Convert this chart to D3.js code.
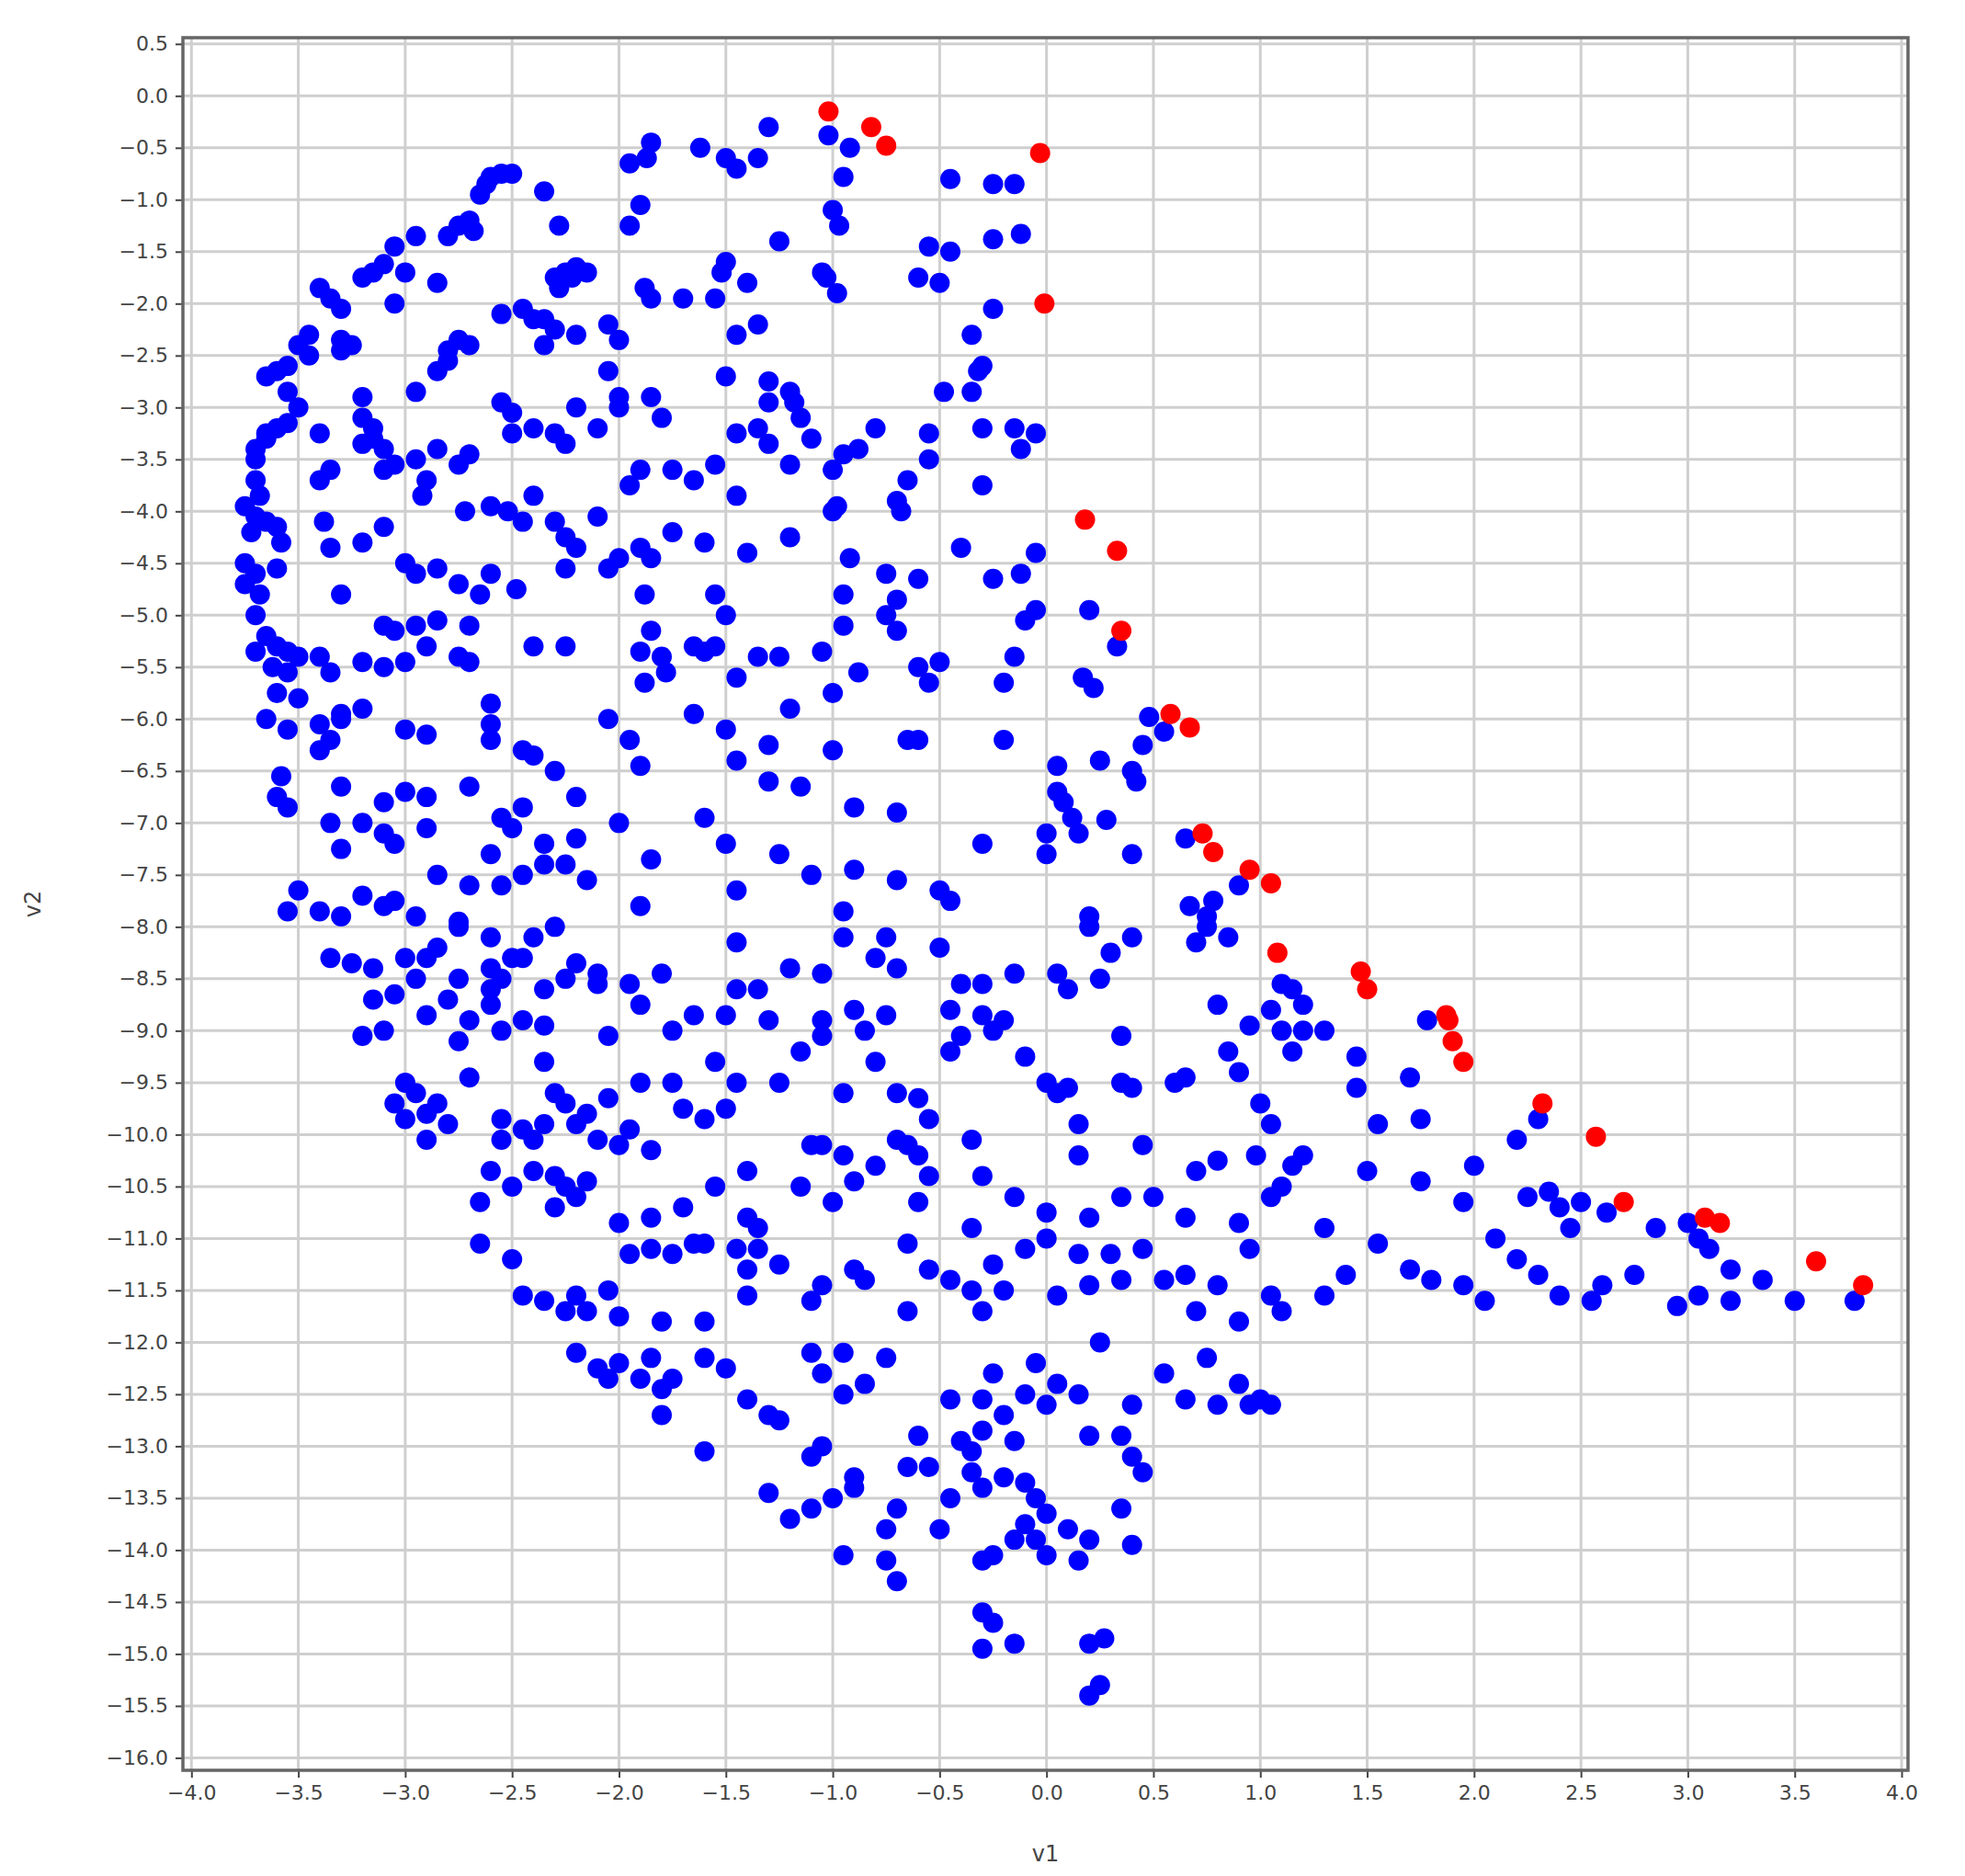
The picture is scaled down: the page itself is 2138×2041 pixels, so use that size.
<!DOCTYPE html>
<html>
<head>
<meta charset="utf-8">
<script src="https://cdn.jsdelivr.net/npm/d3@7"></script>
<style>
  body { margin: 0; background: #fff; }
  text { font-family: "DejaVu Sans", sans-serif; }
</style>
</head>
<body>
<div id="container"></div>
<script>
/* CONSTANTS AND GLOBALS */
const width = 2138,
  height = 2041,
  margin = { top: 41, bottom: 115, left: 199, right: 62 };

/* DATA */
const xTicks = d3.range(-4, 4.001, 0.5);
const yTicks = d3.range(-16, 0.501, 0.5);

// points, as [v1, v2]
const redPoints = [
  [-1.02,-0.15],[-0.82,-0.3],[-0.75,-0.48],[-0.03,-0.55],[-0.01,-2.0],[0.18,-4.08],[0.33,-4.38],
  [0.35,-5.15],[0.58,-5.95],[0.67,-6.08],[0.73,-7.1],[0.78,-7.28],[0.95,-7.45],[1.05,-7.58],
  [1.08,-8.25],[1.47,-8.43],[1.5,-8.6],[1.87,-8.85],[1.88,-8.9],[1.9,-9.1],[1.95,-9.3],[2.32,-9.7],
  [2.57,-10.02],[2.7,-10.65],[3.08,-10.8],[3.15,-10.85],[3.6,-11.22],[3.82,-11.45]
];

const bluePoints = [
  // 0 .. -2
  [-1.3,-0.3],[-1.02,-0.38],[-0.92,-0.5],[-1.85,-0.45],[-1.95,-0.65],[-1.87,-0.6],[-1.62,-0.5],[-1.5,-0.6],
  [-1.45,-0.7],[-1.35,-0.6],[-0.95,-0.78],[-0.45,-0.8],[-0.25,-0.85],[-0.15,-0.85],[-2.55,-0.75],[-2.6,-0.78],
  [-2.62,-0.85],[-2.65,-0.95],[-2.5,-0.75],[-2.35,-0.92],[-1.9,-1.05],[-1.95,-1.25],[-1.0,-1.1],[-0.97,-1.25],
  [-2.7,-1.2],[-2.68,-1.3],[-2.8,-1.35],[-2.75,-1.25],[-2.95,-1.35],[-3.05,-1.45],[-2.28,-1.25],[-1.25,-1.4],
  [-0.55,-1.45],[-0.45,-1.5],[-0.25,-1.38],[-0.12,-1.33],[-3.1,-1.62],[-3.15,-1.7],[-3.2,-1.75],[-3.0,-1.7],
  [-2.85,-1.8],[-2.25,-1.7],[-2.2,-1.65],[-2.3,-1.75],[-2.15,-1.7],[-1.5,-1.6],[-1.52,-1.7],[-1.4,-1.8],
  [-1.05,-1.7],[-1.03,-1.75],[-0.6,-1.75],[-0.5,-1.8],[-3.4,-1.85],[-3.35,-1.95],[-3.3,-2.05],[-2.45,-2.05],
  [-2.4,-2.15],[-1.88,-1.85],[-1.85,-1.95],[-1.7,-1.95],[-1.55,-1.95],[-2.28,-1.85],[-2.22,-1.75],[-0.98,-1.9],[-3.05,-2.0],
  // -2 .. -3
  [-3.45,-2.3],[-3.5,-2.4],[-3.3,-2.35],[-3.3,-2.45],[-3.25,-2.4],[-3.6,-2.65],[-3.55,-2.6],[-3.65,-2.7],
  [-3.45,-2.5],[-3.2,-2.9],[-2.8,-2.45],[-2.75,-2.35],[-2.7,-2.4],[-2.85,-2.65],[-2.8,-2.55],[-2.55,-2.1],
  [-2.35,-2.15],[-2.3,-2.25],[-2.2,-2.3],[-2.35,-2.4],[-2.05,-2.2],[-2.0,-2.35],[-1.45,-2.3],[-1.35,-2.2],
  [-0.35,-2.3],[-0.25,-2.05],[-3.55,-2.85],[-3.5,-3.0],[-2.05,-2.65],[-2.95,-2.85],[-2.55,-2.95],[-2.5,-3.05],
  [-2.2,-3.0],[-2.0,-2.9],[-1.85,-2.9],[-1.5,-2.7],[-1.3,-2.75],[-1.2,-2.85],[-1.18,-2.95],[-0.32,-2.65],
  [-0.3,-2.6],[-0.48,-2.85],[-0.35,-2.85],[-1.3,-2.95],
  // -3 .. -4
  [-3.65,-3.3],[-3.7,-3.4],[-3.7,-3.5],[-3.65,-3.25],[-3.6,-3.2],[-3.55,-3.15],[-3.4,-3.25],[-3.2,-3.1],
  [-3.15,-3.2],[-3.15,-3.3],[-3.1,-3.4],[-3.2,-3.35],[-3.1,-3.6],[-3.05,-3.55],[-3.35,-3.6],[-2.95,-3.5],
  [-2.9,-3.7],[-2.85,-3.4],[-2.7,-3.45],[-2.75,-3.55],[-2.92,-3.85],[-2.5,-3.25],[-2.4,-3.2],[-2.3,-3.25],
  [-2.25,-3.35],[-2.1,-3.2],[-2.0,-3.0],[-1.8,-3.1],[-1.9,-3.6],[-1.75,-3.6],[-1.65,-3.7],[-1.55,-3.55],
  [-1.45,-3.25],[-1.35,-3.2],[-1.15,-3.1],[-1.1,-3.3],[-0.95,-3.45],[-0.88,-3.4],[-0.8,-3.2],[-0.65,-3.7],
  [-0.55,-3.5],[-0.55,-3.25],[-0.3,-3.2],[-0.15,-3.2],[-0.12,-3.4],[-0.05,-3.25],[-0.3,-3.75],[-1.3,-3.35],
  [-1.2,-3.55],[-1.0,-3.6],[-1.95,-3.75],[-2.4,-3.85],[-3.7,-3.7],[-3.68,-3.85],[-3.4,-3.7],[-1.45,-3.85],
  [-0.98,-3.95],[-0.7,-3.9],[-0.68,-4.0],
  // -4 .. -5
  [-3.75,-3.95],[-3.7,-4.05],[-3.65,-4.1],[-3.6,-4.15],[-3.72,-4.2],[-3.58,-4.3],[-3.75,-4.5],[-3.7,-4.6],
  [-3.75,-4.7],[-3.68,-4.8],[-3.6,-4.55],[-3.38,-4.1],[-3.35,-4.35],[-3.2,-4.3],[-3.1,-4.15],[-3.0,-4.5],
  [-2.95,-4.6],[-2.85,-4.55],[-2.75,-4.7],[-2.65,-4.8],[-2.6,-4.6],[-2.72,-4.0],[-2.6,-3.95],[-2.52,-4.0],
  [-2.45,-4.1],[-2.3,-4.1],[-2.25,-4.25],[-2.1,-4.05],[-2.2,-4.35],[-2.0,-4.45],[-1.9,-4.35],[-1.85,-4.45],
  [-1.75,-4.2],[-1.6,-4.3],[-1.4,-4.4],[-1.2,-4.25],[-1.0,-4.0],[-0.92,-4.45],[-0.75,-4.6],[-0.6,-4.65],
  [-0.4,-4.35],[-0.25,-4.65],[-0.12,-4.6],[-0.05,-4.4],[-0.95,-4.8],[-0.7,-4.85],[-3.3,-4.8],[-2.48,-4.75],
  [-2.25,-4.55],[-2.05,-4.55],[-1.88,-4.8],[-1.55,-4.8],
  // -5 .. -6
  [-3.7,-5.0],[-3.65,-5.2],[-3.6,-5.3],[-3.7,-5.35],[-3.55,-5.35],[-3.5,-5.4],[-3.62,-5.5],[-3.55,-5.55],
  [-3.6,-5.75],[-3.5,-5.8],[-3.4,-5.4],[-3.35,-5.55],[-3.1,-5.1],[-3.05,-5.15],[-2.95,-5.1],[-2.9,-5.3],
  [-2.85,-5.05],[-2.7,-5.1],[-2.7,-5.45],[-3.2,-5.45],[-3.1,-5.5],[-2.75,-5.4],[-3.0,-5.45],[-2.4,-5.3],
  [-2.25,-5.3],[-1.85,-5.15],[-1.9,-5.35],[-1.8,-5.4],[-1.65,-5.3],[-1.6,-5.35],[-1.55,-5.3],[-1.5,-5.0],
  [-1.35,-5.4],[-1.25,-5.4],[-1.05,-5.35],[-0.95,-5.1],[-0.75,-5.0],[-0.7,-5.15],[-0.6,-5.5],[-0.55,-5.65],
  [-0.5,-5.45],[-0.2,-5.65],[-0.15,-5.4],[-0.1,-5.05],[-0.05,-4.95],[0.2,-4.95],[0.33,-5.3],[-1.78,-5.55],
  [-1.88,-5.65],[-1.45,-5.6],[-1.2,-5.9],[-0.88,-5.55],[-1.0,-5.75],[0.17,-5.6],[0.22,-5.7],[-3.3,-5.95],[-2.6,-5.85],
  // -6 .. -7
  [-3.65,-6.0],[-3.55,-6.1],[-3.4,-6.05],[-3.35,-6.2],[-3.4,-6.3],[-3.3,-6.0],[-3.2,-5.9],[-3.0,-6.1],
  [-2.9,-6.15],[-3.58,-6.55],[-3.6,-6.75],[-3.55,-6.85],[-2.6,-6.05],[-2.6,-6.2],[-2.45,-6.3],[-2.4,-6.35],
  [-2.3,-6.5],[-2.05,-6.0],[-1.95,-6.2],[-1.9,-6.45],[-1.65,-5.95],[-1.5,-6.1],[-1.45,-6.4],[-1.3,-6.25],
  [-1.0,-6.3],[-0.6,-6.2],[-0.65,-6.2],[-0.2,-6.2],[0.05,-6.45],[0.05,-6.7],[0.08,-6.8],[0.25,-6.4],
  [0.4,-6.5],[0.42,-6.6],[0.45,-6.25],[0.48,-5.98],[0.55,-6.12],[-3.3,-6.65],[-3.0,-6.7],[-2.9,-6.75],
  [-3.1,-6.8],[-2.7,-6.65],[-2.55,-6.95],[-2.45,-6.85],[-2.2,-6.75],[-1.3,-6.6],[-1.15,-6.65],[-0.7,-6.9],
  [0.12,-6.95],[0.28,-6.97],[-1.6,-6.95],
  // -7 .. -8
  [-3.35,-7.0],[-3.2,-7.0],[-3.1,-7.1],[-3.05,-7.2],[-3.3,-7.25],[-3.5,-7.65],[-3.4,-7.85],[-3.3,-7.9],
  [-3.2,-7.7],[-3.1,-7.8],[-3.05,-7.75],[-2.9,-7.05],[-2.85,-7.5],[-2.7,-7.6],[-2.6,-7.3],[-2.55,-7.6],
  [-2.45,-7.5],[-2.35,-7.4],[-2.25,-7.4],[-2.15,-7.55],[-2.5,-7.05],[-2.2,-7.15],[-2.35,-7.2],[-2.0,-7.0],
  [-1.85,-7.35],[-1.9,-7.8],[-1.5,-7.2],[-1.45,-7.65],[-1.25,-7.3],[-1.1,-7.5],[-0.9,-7.45],[-0.7,-7.55],
  [-0.5,-7.65],[-0.45,-7.75],[-0.3,-7.2],[-0.9,-6.85],[0.0,-7.1],[0.0,-7.3],[0.15,-7.1],[0.4,-7.3],
  [0.65,-7.15],[0.67,-7.8],[0.75,-7.9],[0.78,-7.75],[0.9,-7.6],[-2.95,-7.9],[-2.75,-7.95],[-3.55,-7.85],
  [-0.95,-7.85],[0.2,-7.9],
  // -8 .. -9
  [-3.35,-8.3],[-3.25,-8.35],[-3.15,-8.4],[-3.15,-8.7],[-3.05,-8.65],[-3.1,-9.0],[-3.2,-9.05],[-2.95,-8.5],
  [-2.9,-8.3],[-2.85,-8.2],[-2.75,-8.0],[-2.6,-8.1],[-2.75,-8.5],[-2.8,-8.7],[-2.7,-8.9],[-2.6,-8.6],
  [-2.55,-8.5],[-2.5,-8.3],[-2.45,-8.3],[-2.4,-8.1],[-2.3,-8.0],[-2.6,-8.4],[-2.35,-8.6],[-2.25,-8.5],
  [-2.2,-8.35],[-2.1,-8.45],[-2.6,-8.75],[-2.45,-8.9],[-2.35,-8.95],[-2.9,-8.85],[-2.75,-9.1],[-2.55,-9.0],
  [-1.95,-8.55],[-1.9,-8.75],[-1.8,-8.45],[-1.45,-8.15],[-1.45,-8.6],[-1.35,-8.6],[-1.2,-8.4],[-1.05,-8.45],
  [-0.95,-8.1],[-0.8,-8.3],[-0.75,-8.1],[-0.7,-8.4],[-0.5,-8.2],[-0.4,-8.55],[-0.3,-8.55],[-0.15,-8.45],
  [0.05,-8.45],[0.1,-8.6],[0.25,-8.5],[0.2,-8.0],[0.4,-8.1],[0.7,-8.15],[0.75,-8.0],[0.85,-8.1],
  [1.1,-8.55],[1.15,-8.6],[1.2,-8.75],[0.8,-8.75],[1.05,-8.8],[-1.3,-8.9],[-1.05,-8.9],[-0.9,-8.8],
  [-0.75,-8.85],[-0.45,-8.8],[-0.3,-8.85],[-0.2,-8.9],[-1.65,-8.85],[-1.5,-8.85],[-2.1,-8.55],[-3.0,-8.3],[0.3,-8.25],
  // -9 .. -10
  [-3.0,-9.5],[-2.95,-9.6],[-2.85,-9.7],[-2.9,-9.8],[-3.05,-9.7],[-3.0,-9.85],[-2.8,-9.9],[-2.9,-10.05],
  [-2.7,-9.45],[-2.55,-9.85],[-2.45,-9.95],[-2.35,-9.9],[-2.3,-9.6],[-2.25,-9.7],[-2.15,-9.8],[-2.05,-9.65],
  [-2.2,-9.9],[-1.95,-9.95],[-1.9,-9.5],[-1.75,-9.5],[-1.7,-9.75],[-1.6,-9.85],[-1.55,-9.3],[-1.5,-9.75],
  [-1.45,-9.5],[-2.35,-9.3],[-1.25,-9.5],[-1.15,-9.2],[-1.05,-9.05],[-0.95,-9.6],[-0.8,-9.3],[-0.7,-9.6],
  [-0.6,-9.65],[-0.55,-9.85],[-0.45,-9.2],[-0.4,-9.05],[-0.1,-9.25],[0.0,-9.5],[0.05,-9.6],[0.1,-9.55],
  [0.15,-9.9],[0.35,-9.05],[0.35,-9.5],[0.4,-9.55],[0.6,-9.5],[0.65,-9.45],[0.85,-9.2],[0.9,-9.4],
  [1.0,-9.7],[1.05,-9.9],[1.1,-9.0],[1.15,-9.2],[1.2,-9.0],[1.3,-9.0],[1.45,-9.25],[1.45,-9.55],
  [1.7,-9.45],[1.75,-9.85],[1.55,-9.9],[1.78,-8.9],[2.3,-9.85],[-2.05,-9.05],[-1.75,-9.0],[-0.85,-9.0],
  [-0.25,-9.0],[0.95,-8.95],
  // -10 .. -11
  [-2.55,-10.05],[-2.6,-10.35],[-2.5,-10.5],[-2.4,-10.35],[-2.3,-10.4],[-2.25,-10.5],[-2.2,-10.6],[-2.1,-10.05],
  [-2.0,-10.1],[-1.85,-10.15],[-2.4,-10.05],[-2.15,-10.45],[-1.85,-10.8],[-2.0,-10.85],[-1.7,-10.7],[-1.4,-10.35],
  [-1.4,-10.8],[-1.35,-10.9],[-1.15,-10.5],[-1.1,-10.1],[-1.05,-10.1],[-0.95,-10.2],[-0.9,-10.45],[-0.8,-10.3],
  [-0.7,-10.05],[-0.65,-10.1],[-0.6,-10.2],[-0.55,-10.4],[-0.6,-10.65],[-0.35,-10.05],[-0.3,-10.4],[-0.15,-10.6],
  [0.0,-10.75],[0.2,-10.8],[0.15,-10.2],[0.35,-10.6],[0.45,-10.1],[0.5,-10.6],[0.65,-10.8],[0.7,-10.35],
  [0.8,-10.25],[0.9,-10.85],[0.98,-10.2],[1.05,-10.6],[1.1,-10.5],[1.15,-10.3],[1.2,-10.2],[1.3,-10.9],
  [1.5,-10.35],[1.75,-10.45],[1.95,-10.65],[2.0,-10.3],[2.2,-10.05],[2.25,-10.6],[2.35,-10.55],[2.4,-10.7],
  [2.5,-10.65],[2.45,-10.9],[2.62,-10.75],[-2.65,-10.65],[-1.55,-10.5],[-1.0,-10.65],[-0.35,-10.9],[-2.3,-10.7],
  // -11 .. -12
  [-2.65,-11.05],[-2.5,-11.2],[-2.45,-11.55],[-2.35,-11.6],[-2.25,-11.7],[-2.2,-11.55],[-2.15,-11.7],[-2.05,-11.5],
  [-2.0,-11.75],[-1.95,-11.15],[-1.85,-11.1],[-1.75,-11.15],[-1.65,-11.05],[-1.6,-11.05],[-1.45,-11.1],[-1.4,-11.3],
  [-1.35,-11.1],[-1.25,-11.25],[-1.1,-11.6],[-1.05,-11.45],[-0.9,-11.3],[-0.85,-11.4],[-0.65,-11.05],[-0.55,-11.3],
  [-0.45,-11.4],[-0.35,-11.5],[-0.25,-11.25],[-0.2,-11.5],[-0.1,-11.1],[0.0,-11.0],[0.05,-11.55],[0.15,-11.15],
  [0.2,-11.45],[0.3,-11.15],[0.35,-11.4],[0.45,-11.1],[0.55,-11.4],[0.65,-11.35],[0.8,-11.45],[0.95,-11.1],
  [1.05,-11.55],[1.1,-11.7],[1.3,-11.55],[1.4,-11.35],[1.55,-11.05],[1.7,-11.3],[1.8,-11.4],[1.95,-11.45],
  [2.05,-11.6],[2.1,-11.0],[2.2,-11.2],[2.3,-11.35],[2.4,-11.55],[2.55,-11.6],[2.6,-11.45],[2.75,-11.35],
  [2.85,-10.9],[2.95,-11.65],[3.0,-10.85],[3.05,-11.0],[3.1,-11.1],[3.05,-11.55],[3.2,-11.3],[3.2,-11.6],
  [3.35,-11.4],[3.5,-11.6],[3.78,-11.6],[-0.65,-11.7],[-0.3,-11.7],[-1.8,-11.8],[-1.4,-11.55],[0.7,-11.7],
  [0.9,-11.8],[-1.6,-11.8],
  // -12 .. -13
  [-2.2,-12.1],[-2.1,-12.25],[-2.0,-12.2],[-1.9,-12.35],[-1.8,-12.45],[-1.75,-12.35],[-1.6,-12.15],[-1.5,-12.25],
  [-1.4,-12.55],[-1.3,-12.7],[-1.25,-12.75],[-1.1,-12.1],[-1.05,-12.3],[-0.95,-12.1],[-0.85,-12.4],[-0.75,-12.15],
  [-0.6,-12.9],[-0.45,-12.55],[-0.3,-12.55],[-0.25,-12.3],[-0.2,-12.7],[-0.1,-12.5],[-0.05,-12.2],[0.0,-12.6],
  [0.05,-12.4],[0.15,-12.5],[0.25,-12.0],[0.4,-12.6],[0.55,-12.3],[0.65,-12.55],[0.75,-12.15],[0.8,-12.6],
  [0.95,-12.6],[1.0,-12.55],[1.05,-12.6],[0.9,-12.4],[-0.95,-12.5],[-1.8,-12.7],[-2.05,-12.35],[-1.85,-12.15],
  [-0.3,-12.85],[-0.4,-12.95],[0.35,-12.9],[0.2,-12.9],[-0.15,-12.95],
  // -13 .. -14
  [-1.6,-13.05],[-1.1,-13.1],[-1.05,-13.0],[-0.9,-13.3],[-0.65,-13.2],[-0.55,-13.2],[-0.35,-13.05],[-0.35,-13.25],
  [-0.2,-13.3],[-0.1,-13.35],[-0.05,-13.5],[0.0,-13.65],[0.45,-13.25],[0.4,-13.1],[-1.3,-13.45],[-1.2,-13.7],
  [-1.0,-13.5],[-0.9,-13.4],[-0.7,-13.6],[-0.5,-13.8],[-0.45,-13.5],[-0.3,-13.4],[-0.1,-13.75],[0.1,-13.8],
  [0.2,-13.9],[0.35,-13.6],[-1.1,-13.6],[-0.75,-13.8],
  // -14 .. -15.5
  [-0.95,-14.05],[-0.75,-14.1],[-0.7,-14.3],[-0.3,-14.1],[-0.25,-14.05],[-0.15,-13.9],[-0.05,-13.9],[0.0,-14.05],
  [0.15,-14.1],[0.4,-13.95],[-0.3,-14.6],[-0.25,-14.7],[-0.3,-14.95],[-0.15,-14.9],[0.2,-14.9],[0.27,-14.85],
  [0.25,-15.3],[0.2,-15.4]
];

/* SCALES */
const x = d3.scaleLinear()
  .domain([-4.04, 4.03])
  .range([margin.left, width - margin.right]);

const y = d3.scaleLinear()
  .domain([-16.12, 0.56])
  .range([height - margin.bottom, margin.top]);

const svg = d3.select("#container").append("svg")
  .attr("width", width)
  .attr("height", height)
  .style("display", "block");

// GRID
svg.append("g").selectAll("line")
  .data(xTicks)
  .join("line")
  .attr("x1", d => x(d)).attr("x2", d => x(d))
  .attr("y1", margin.top).attr("y2", height - margin.bottom)
  .attr("stroke", "#cfcfcf").attr("stroke-width", 3);

svg.append("g").selectAll("line")
  .data(yTicks)
  .join("line")
  .attr("y1", d => y(d)).attr("y2", d => y(d))
  .attr("x1", margin.left).attr("x2", width - margin.right)
  .attr("stroke", "#cfcfcf").attr("stroke-width", 3);

// AXES
const fmt = d => d3.format(".1f")(d).replace("-", "\u2212");

const xAxis = svg.append("g")
  .attr("transform", `translate(0,${height - margin.bottom})`)
  .call(d3.axisBottom(x).tickValues(xTicks).tickFormat(fmt).tickSize(8).tickPadding(8));

const yAxis = svg.append("g")
  .attr("transform", `translate(${margin.left},0)`)
  .call(d3.axisLeft(y).tickValues(yTicks).tickFormat(fmt).tickSize(8).tickPadding(8));

[xAxis, yAxis].forEach(g => {
  g.select(".domain").remove();
  g.selectAll(".tick line").attr("stroke", "#444").attr("stroke-width", 2);
  g.selectAll("text").attr("font-size", 22).attr("fill", "#444");
});

// FRAME
svg.append("rect")
  .attr("x", margin.left).attr("y", margin.top)
  .attr("width", width - margin.left - margin.right)
  .attr("height", height - margin.top - margin.bottom)
  .attr("fill", "none").attr("stroke", "#666").attr("stroke-width", 3.5);

// AXIS LABELS
svg.append("text")
  .attr("x", (margin.left + width - margin.right) / 2)
  .attr("y", height - 16)
  .attr("text-anchor", "middle")
  .attr("font-size", 24).attr("fill", "#444")
  .text("v1");

svg.append("text")
  .attr("transform", `translate(44,${(margin.top + height - margin.bottom) / 2}) rotate(-90)`)
  .attr("text-anchor", "middle")
  .attr("font-size", 24).attr("fill", "#444")
  .text("v2");

// POINTS
svg.append("g").selectAll("circle.blue")
  .data(bluePoints)
  .join("circle")
  .attr("class", "blue")
  .attr("cx", d => x(d[0]))
  .attr("cy", d => y(d[1]))
  .attr("r", 11)
  .attr("fill", "#0000ff");

svg.append("g").selectAll("circle.red")
  .data(redPoints)
  .join("circle")
  .attr("class", "red")
  .attr("cx", d => x(d[0]))
  .attr("cy", d => y(d[1]))
  .attr("r", 11)
  .attr("fill", "#ff0000");
</script>
</body>
</html>
